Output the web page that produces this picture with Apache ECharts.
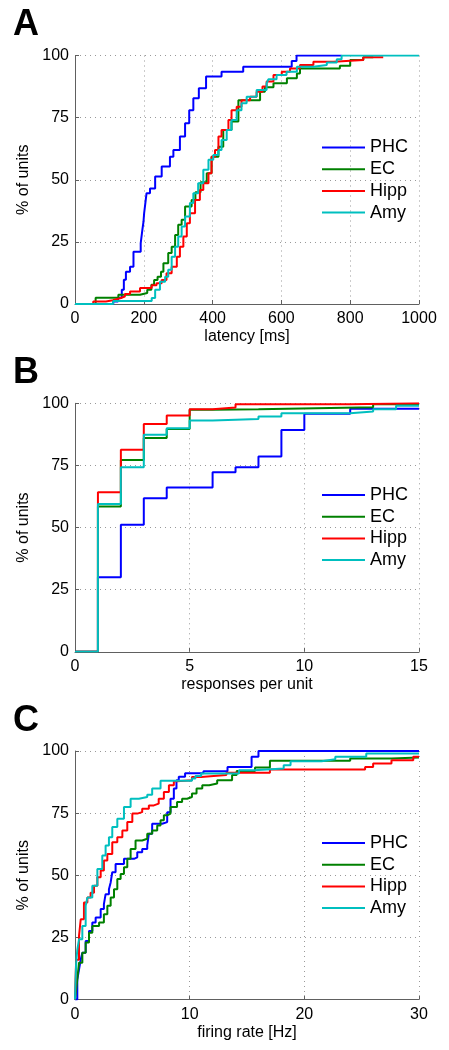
<!DOCTYPE html>
<html><head><meta charset="utf-8">
<script src="https://cdn.jsdelivr.net/npm/echarts@6/dist/echarts.min.js"></script>
<style>html,body{margin:0;padding:0;background:#fff}#c{width:449px;height:1050px}</style>
</head><body><div id="c"></div>
<script>
const seriesNames = ['PHC', 'EC', 'Hipp', 'Amy'];
const panelLetters = ['A', 'B', 'C'];
const xAxisNames = ['latency [ms]', 'responses per unit', 'firing rate [Hz]'];
const yAxisName = '% of units';
const xMaxes = [1000, 15, 30];
const xIntervals = [200, 5, 10];

// Panel A: latency CDFs [ms, %]
const latencyPHC = [[0,0],[111,1],[125,2.5],[136,5.7],[142,9.8],[148,13],[160,15],[170,21],[191,24.5],[196,30],[199,33],[201,36.6],[204,40],[208,44.6],[218,46.5],[233,51.3],[252,55.3],[276,59.3],[286,62],[305,67.4],[320,72.7],[332,78],[344,82.8],[360,86.8],[381,91.5],[426,93.5],[489,95.5],[630,97.8],[644,100],[775,100]];
const latencyEC = [[0,0],[60,2.5],[126,3.7],[189,4.4],[210,5.7],[222,7.7],[230,9.7],[240,11],[250,13],[257,16.4],[271,20.5],[281,23],[291,27.8],[300,31.9],[310,33.9],[320,39.2],[339,41.9],[350,45],[365,49],[383,52.6],[397,59.3],[417,63.3],[431,70],[455,73.4],[475,82],[538,85.4],[552,87.2],[577,88.8],[616,90.8],[645,92.8],[654,94.8],[770,95.9],[800,98.2],[838,99.3],[867,99.3]];
const latencyHipp = [[0,0],[53,1],[90,1.5],[110,2.3],[131,3],[145,4],[160,5],[189,6.4],[223,7.5],[237,8.4],[252,9.7],[266,12.4],[281,15],[296,19],[305,23],[315,27.2],[325,32.5],[334,36.5],[349,41.9],[363,45.9],[373,48.6],[388,52.6],[397,59.3],[407,62],[417,67.4],[426,70],[446,74],[455,78],[470,79.4],[484,82],[509,83.4],[528,85.4],[545,87.5],[557,89.5],[577,92.2],[601,93.5],[625,94.8],[654,96.2],[693,97.5],[751,98.2],[838,99.3],[896,99.3]];
const latencyAmy = [[0,0],[111,1.2],[223,2.4],[233,5.7],[247,9],[262,11],[271,13.8],[281,19],[291,23],[300,27.2],[310,31.2],[320,35.2],[334,40.6],[344,44.6],[358,48.6],[373,54],[388,58],[402,60],[417,62],[426,66],[441,70],[455,74],[470,78],[484,80.8],[499,83.4],[528,86.1],[557,88.8],[562,90.4],[586,92.2],[615,93.5],[645,95.5],[693,96.2],[732,97.2],[761,98.5],[775,100],[1000,100]];

// Panel B: responses per unit CDFs [count, %]
const responsesPHC = [[0,0],[1,30],[2,51.1],[3,61.8],[4,66.1],[6,72.3],[7,74.3],[8,78.6],[9,89.3],[10,95.8],[12,97.8],[15,97.8]];
const responsesEC = [[0,0],[1,58.5],[2,77.2],[3,86],[4,89.7],[5,97.4],[6,97.6],[8,98.4],[13,99.6],[15,99.6]];
const responsesHipp = [[0,0],[1,64.2],[2,81.3],[3,91.7],[4,95.1],[5,97.6],[6,98.3],[7,99.6],[12,100],[15,100]];
const responsesAmy = [[0,0],[1,59.5],[2,74.3],[3,87.3],[4,90],[5,93.1],[6,93.7],[8,94.7],[9,96],[12,96.7],[13,97.6],[14,99],[15,99]];

// Panel C: firing rate CDFs [Hz, %]
const ratePHC = [[0,0],[0.2,8],[0.35,12],[0.5,16.1],[0.64,18.8],[0.93,23.5],[1.22,27.6],[1.51,31],[1.8,33],[2.24,36.4],[2.52,38.4],[2.67,42.4],[2.96,44.4],[3.11,47.1],[3.25,51.2],[3.54,54.5],[4.27,56.6],[5.14,57.2],[5.43,59.3],[5.86,60.6],[6.3,62],[6.44,66.7],[6.73,70.7],[7.6,71.4],[8.04,75.4],[8.33,80.8],[8.62,84.9],[8.85,88.2],[9.05,89.6],[9.6,91],[11.2,91.9],[13.3,93.6],[15.4,97.7],[16,100],[30,100]];
const rateEC = [[0,0],[0.1,4],[0.2,8],[0.35,14.8],[0.64,18.8],[0.93,22.9],[1.22,26.9],[1.51,29.6],[2.1,31],[2.52,34.3],[2.82,37.7],[3.11,41],[3.4,44.4],[3.69,48.5],[3.98,50.5],[4.27,53.2],[4.56,56.6],[4.85,60.6],[5.28,64],[5.86,64.7],[6.3,66.7],[6.73,68],[7.17,70],[7.46,72.1],[7.75,74.1],[8.04,74.8],[8.33,77.5],[8.9,79.5],[9.34,80.8],[9.78,81.5],[10.2,82.9],[10.6,84.9],[11.1,86.2],[11.7,86.9],[12.4,88.2],[13.7,90.3],[14.1,92],[15.7,93.4],[17,96.1],[24,97],[27.6,97.4],[30,97.4]];
const rateHipp = [[0,0],[0.05,8],[0.1,16],[0.35,25.6],[0.5,32.3],[0.78,39],[1.08,41],[1.36,43],[1.66,45.8],[1.95,49.2],[2.24,51.9],[2.52,55.9],[2.82,58.6],[3.25,63.3],[3.69,65.3],[4.13,68],[4.56,71.4],[5.0,74.8],[5.43,75.4],[5.86,76.8],[6.44,78.1],[6.88,78.8],[7.3,80.8],[7.75,83.5],[8.19,86.2],[8.62,87.8],[8.9,88.2],[10.2,89.5],[11,90.3],[13.2,91.2],[17,92.6],[25.3,93.6],[26,95],[27.6,96.3],[29.5,97.7],[30,97.7]];
const rateAmy = [[0,0],[0.05,8],[0.1,14.8],[0.2,20],[0.35,24.2],[0.64,29.6],[0.93,37.7],[1.08,41],[1.51,45.8],[1.95,52.5],[2.38,57.9],[2.67,62],[2.96,65.3],[3.25,69.4],[3.69,72.7],[4.27,77.5],[4.85,80.8],[5.57,81.5],[6.3,82.4],[6.73,84.9],[7.46,88],[10.2,88.9],[10.5,89.9],[11,90.9],[14.3,92.3],[15.6,93],[18.2,94.3],[18.8,95.9],[21.5,96.7],[22.7,97.7],[25.4,99],[30,99]];

const panelData = [
  [latencyPHC, latencyEC, latencyHipp, latencyAmy],
  [responsesPHC, responsesEC, responsesHipp, responsesAmy],
  [ratePHC, rateEC, rateHipp, rateAmy]
];

const FONT = '"Liberation Sans", Arial, Helvetica, sans-serif';
const colors = ['#0000ff', '#008000', '#ff0000', '#00bfbf'];
const gridTops = [55.5, 403.3, 751];
const gridHeight = 248.5;
const letterTops = [7, 355, 703];
const legendTops = [137.5, 485, 833];

const grid = [], xAxis = [], yAxis = [], series = [], legend = [], graphic = [];
const splitStyle = { show: true, lineStyle: { color: '#999', type: [1, 4], width: 1 } };
for (let p = 0; p < 3; p++) {
  grid.push({ left: 75, width: 344, top: gridTops[p], height: gridHeight, containLabel: false, outerBoundsMode: 'none' });
  xAxis.push({
    type: 'value', gridIndex: p, min: 0, max: xMaxes[p], interval: xIntervals[p],
    name: xAxisNames[p], nameLocation: 'middle', nameGap: 25,
    nameTextStyle: { fontFamily: FONT, fontSize: 16, color: '#000' },
    axisLine: { show: true, onZero: false, lineStyle: { color: '#606060', width: 1 } },
    axisTick: { show: true, inside: true, length: 4, lineStyle: { color: '#606060' } },
    axisLabel: { fontFamily: FONT, fontSize: 16, color: '#000', margin: 7, formatter: v => String(v) },
    splitLine: splitStyle
  });
  yAxis.push({
    type: 'value', gridIndex: p, min: 0, max: 100, interval: 25,
    name: yAxisName, nameLocation: 'middle', nameGap: 43,
    nameTextStyle: { fontFamily: FONT, fontSize: 16, color: '#000' },
    axisLine: { show: true, onZero: false, lineStyle: { color: '#606060', width: 1 } },
    axisTick: { show: true, inside: true, length: 4, lineStyle: { color: '#606060' } },
    axisLabel: { fontFamily: FONT, fontSize: 16, color: '#000', margin: 6, formatter: v => String(v) },
    splitLine: splitStyle
  });
  for (let s = 0; s < 4; s++) {
    series.push({
      type: 'line', name: seriesNames[s], xAxisIndex: p, yAxisIndex: p,
      data: panelData[p][s], step: 'end', symbol: 'none', showSymbol: false,
      lineStyle: { color: colors[s], width: 2 }, itemStyle: { color: colors[s] },
      animation: false, clip: true, z: 2 + s
    });
  }
  legend.push({
    data: seriesNames.map(n => ({ name: n, icon: 'rect' })), orient: 'vertical', left: 322, top: legendTops[p],
    itemWidth: 43, itemHeight: 2, itemGap: 1.7, padding: 0,
    textStyle: { fontFamily: FONT, fontSize: 18, color: '#000', lineHeight: 20 },
    selectedMode: false
  });
  graphic.push({
    type: 'text', left: 13, top: letterTops[p],
    style: { text: panelLetters[p], font: 'bold 36px ' + FONT, fill: '#000' }
  });
}

const chart = echarts.init(document.getElementById('c'), null, { renderer: 'canvas' });
chart.setOption({ animation: false, backgroundColor: '#fff', grid, xAxis, yAxis, series, legend, graphic });
</script></body></html>
